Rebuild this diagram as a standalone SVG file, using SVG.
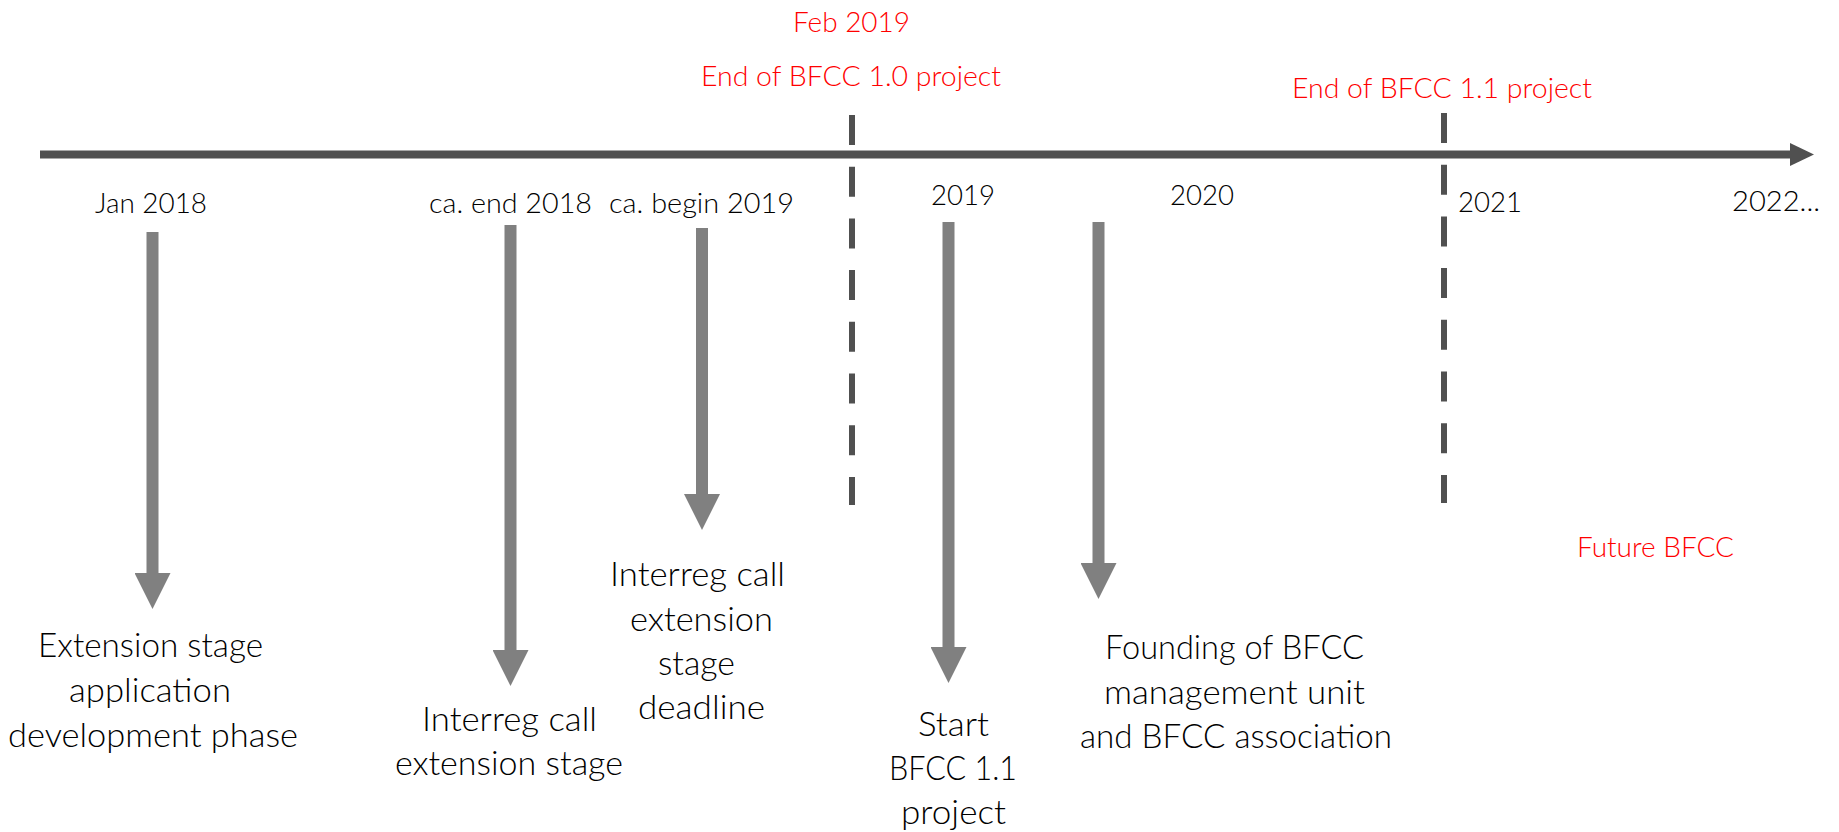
<svg xmlns="http://www.w3.org/2000/svg" width="1839" height="832" viewBox="0 0 1839 832">
<style>
  .ev { font-family: Lato, "Liberation Sans", sans-serif; font-weight: 300; font-size: 32.4px; fill: #000000; }
  .dt { font-family: Lato, "Liberation Sans", sans-serif; font-weight: 300; font-size: 28.3px; fill: #000000; }
  .rd { font-family: Lato, "Liberation Sans", sans-serif; font-weight: 300; font-size: 28.3px; fill: #ff0000; }
  .arr { stroke: #808080; stroke-width: 12; fill: none; marker-end: url(#gh); }
  .dash { stroke: #505050; stroke-width: 6; stroke-dasharray: 30 21.7; fill: none; }
</style>
<defs>
  <marker id="gh" viewBox="0 0 36 36" refX="0" refY="18" markerWidth="36" markerHeight="36" markerUnits="userSpaceOnUse" orient="auto">
    <path d="M0,0 L36,18 L0,36 z" fill="#808080"/>
  </marker>
  <marker id="ah" viewBox="0 0 24 23" refX="0" refY="11.5" markerWidth="24" markerHeight="23" markerUnits="userSpaceOnUse" orient="auto">
    <path d="M0,0 L24,11.5 L0,23 z" fill="#505050"/>
  </marker>
</defs>
<rect width="1839" height="832" fill="#ffffff"/>

<g id="connectors">
  <line id="axis" x1="40" y1="154.5" x2="1790" y2="154.5" stroke="#505050" stroke-width="8" marker-end="url(#ah)"/>
  <line id="dash-2019" class="dash" x1="852" y1="115" x2="852" y2="505"/>
  <line id="dash-2021" class="dash" x1="1444" y1="113" x2="1444" y2="503"/>
  <line id="arrow-jan2018" class="arr" x1="152.5" y1="232" x2="152.5" y2="573"/>
  <line id="arrow-end2018" class="arr" x1="510.5" y1="225" x2="510.5" y2="650"/>
  <line id="arrow-begin2019" class="arr" x1="702" y1="228" x2="702" y2="494"/>
  <line id="arrow-2019" class="arr" x1="948.5" y1="222" x2="948.5" y2="647"/>
  <line id="arrow-2020" class="arr" x1="1098.5" y1="222" x2="1098.5" y2="563"/>
</g>

<g id="labels-top">
  <text class="rd" x="793" y="32" textLength="117" lengthAdjust="spacingAndGlyphs">Feb 2019</text>
  <text class="rd" x="701" y="86" textLength="300" lengthAdjust="spacingAndGlyphs">End of BFCC 1.0 project</text>
  <text class="rd" x="1292" y="98" textLength="300" lengthAdjust="spacingAndGlyphs">End of BFCC 1.1 project</text>
</g>

<g id="node-jan2018">
  <text class="dt" x="95" y="213" textLength="112" lengthAdjust="spacingAndGlyphs">Jan 2018</text>
  <text class="ev" x="38" y="657" textLength="225" lengthAdjust="spacingAndGlyphs">Extension stage</text>
  <text class="ev" x="69" y="702" textLength="162" lengthAdjust="spacingAndGlyphs">application</text>
  <text class="ev" x="8" y="747" textLength="290" lengthAdjust="spacingAndGlyphs">development phase</text>
</g>

<g id="node-end2018">
  <text class="dt" x="429" y="213" textLength="163" lengthAdjust="spacingAndGlyphs">ca. end 2018</text>
  <text class="ev" x="422" y="731" textLength="175" lengthAdjust="spacingAndGlyphs">Interreg call</text>
  <text class="ev" x="395" y="775" textLength="228" lengthAdjust="spacingAndGlyphs">extension stage</text>
</g>

<g id="node-begin2019">
  <text class="dt" x="609" y="213" textLength="185" lengthAdjust="spacingAndGlyphs">ca. begin 2019</text>
  <text class="ev" x="610" y="586" textLength="175" lengthAdjust="spacingAndGlyphs">Interreg call</text>
  <text class="ev" x="630" y="631" textLength="143" lengthAdjust="spacingAndGlyphs">extension</text>
  <text class="ev" x="658" y="675" textLength="77" lengthAdjust="spacingAndGlyphs">stage</text>
  <text class="ev" x="638" y="719" textLength="127" lengthAdjust="spacingAndGlyphs">deadline</text>
</g>

<g id="node-2019">
  <text class="dt" x="931" y="205" textLength="64" lengthAdjust="spacingAndGlyphs">2019</text>
  <text class="ev" x="918" y="736" textLength="71" lengthAdjust="spacingAndGlyphs">Start</text>
  <text class="ev" x="889" y="780" textLength="128" lengthAdjust="spacingAndGlyphs">BFCC 1.1</text>
  <text class="ev" x="901" y="824" textLength="105" lengthAdjust="spacingAndGlyphs">project</text>
</g>

<g id="node-2020">
  <text class="dt" x="1170" y="205" textLength="64" lengthAdjust="spacingAndGlyphs">2020</text>
  <text class="ev" x="1105" y="659" textLength="259" lengthAdjust="spacingAndGlyphs">Founding of BFCC</text>
  <text class="ev" x="1104" y="704" textLength="261" lengthAdjust="spacingAndGlyphs">management unit</text>
  <text class="ev" x="1080" y="748" textLength="312" lengthAdjust="spacingAndGlyphs">and BFCC association</text>
</g>

<g id="node-2021">
  <text class="dt" x="1458" y="212" textLength="64" lengthAdjust="spacingAndGlyphs">2021</text>
</g>

<g id="node-2022">
  <text class="dt" x="1732" y="211" textLength="88" lengthAdjust="spacingAndGlyphs">2022...</text>
  <text class="rd" x="1577" y="557" textLength="157" lengthAdjust="spacingAndGlyphs">Future BFCC</text>
</g>
</svg>
